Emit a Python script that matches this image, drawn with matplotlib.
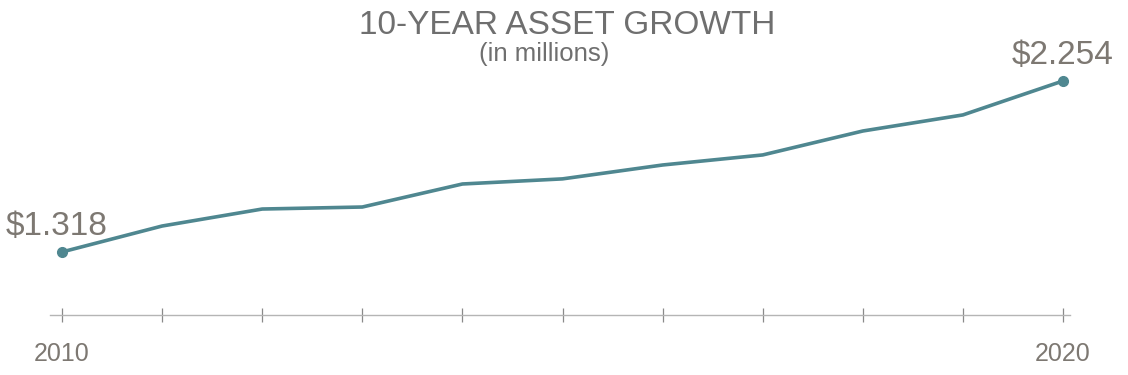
import matplotlib
matplotlib.use("Agg")
import matplotlib.pyplot as plt

# asset values (millions)
years = [2010, 2011, 2012, 2013, 2014, 2015, 2016, 2017, 2018, 2019, 2020]
assets = [1.318, 1.460, 1.553, 1.564, 1.690, 1.718, 1.794, 1.849, 1.980, 2.068, 2.254]
tick_labels = ["2010", "", "", "", "", "", "", "", "", "", "2020"]

line_color = "#4f8790"
text_color = "#7d7872"
title_color = "#6f6f6f"

plt.rcParams["font.family"] = ["Liberation Sans", "DejaVu Sans"]

fig = plt.figure(figsize=(11.28, 3.75), dpi=100)
ax = fig.add_axes([50 / 1128, 60 / 375, 1020 / 1128, 315 / 375])

ax.plot(years, assets, color=line_color, linewidth=2.6, solid_joinstyle="round")
ax.plot([years[0], years[-1]], [assets[0], assets[-1]], "o", color=line_color, markersize=7)

ax.set_xlim(2009.88, 2020.07)
ax.set_ylim(0.973, 2.697)

for s in ["top", "left", "right"]:
    ax.spines[s].set_visible(False)
ax.spines["bottom"].set_color("#b5b5b5")
ax.spines["bottom"].set_linewidth(1.0)
ax.set_yticks([])
ax.set_xticks(years)
ax.set_xticklabels(tick_labels, fontsize=18, color=text_color)
ax.tick_params(axis="x", direction="inout", length=10.5, width=0.9, color="#8a8a8a", pad=14)

# end-point value labels
ax.annotate(f"${assets[0]:.3f}", (years[0], assets[0]), xytext=(-4, 12), textcoords="offset points",
            ha="center", va="baseline", fontsize=24, color=text_color)
ax.annotate(f"${assets[-1]:.3f}", (years[-1], assets[-1]), xytext=(0, 12), textcoords="offset points",
            ha="center", va="baseline", fontsize=24, color=text_color)

fig.text(567 / 1128, 1 - 34 / 375, "10-YEAR ASSET GROWTH", ha="center", va="baseline",
         fontsize=24, color=title_color)
fig.text(544 / 1128, 1 - 61 / 375, "(in millions)", ha="center", va="baseline",
         fontsize=18.5, color=title_color)

fig.savefig("out.png", dpi=100)
